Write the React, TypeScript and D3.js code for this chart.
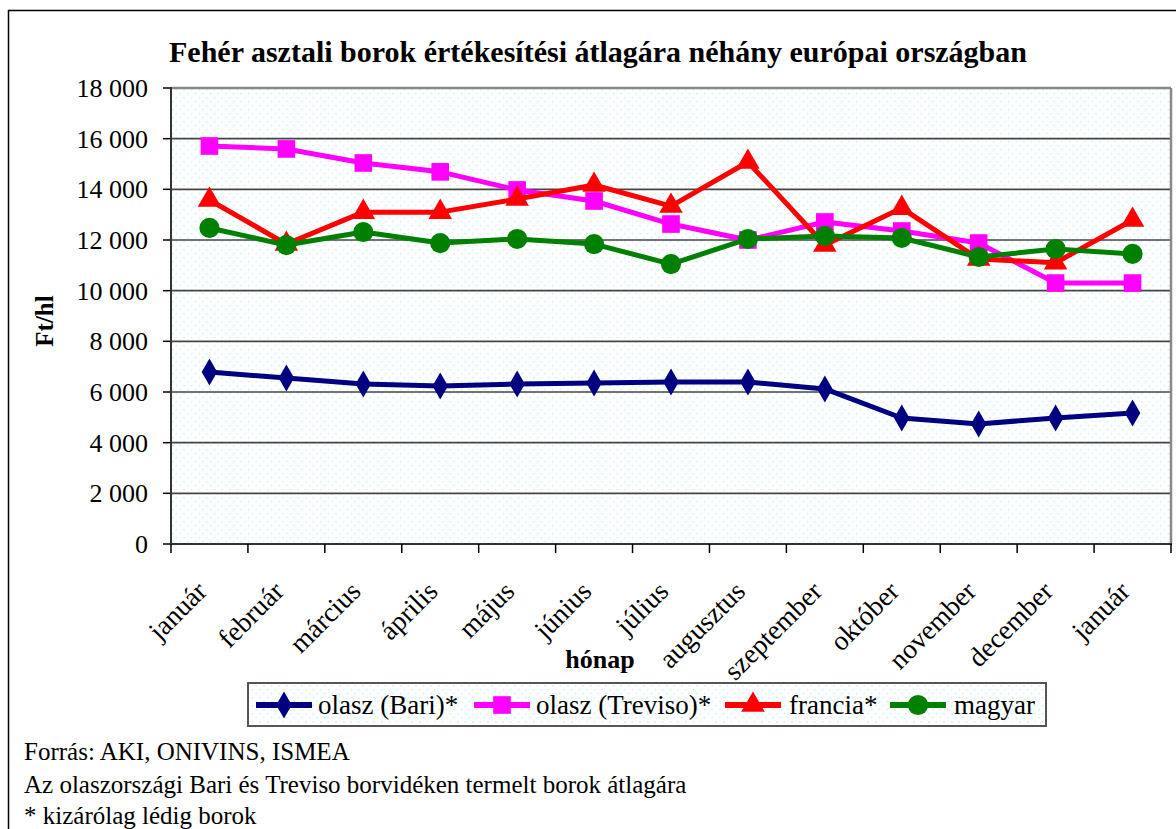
import React from 'react';
import * as d3 from 'd3';

const months = ['január', 'február', 'március', 'április', 'május', 'június', 'július', 'augusztus', 'szeptember', 'október', 'november', 'december', 'január'];
const bari = [6790, 6550, 6315, 6240, 6315, 6355, 6395, 6395, 6120, 4975, 4740, 4975, 5170];
const treviso = [15710, 15595, 15040, 14690, 13975, 13540, 12630, 12000, 12710, 12355, 11880, 10300, 10300];
const francia = [13580, 11840, 13100, 13100, 13620, 14170, 13340, 15080, 11800, 13260, 11250, 11100, 12790];
const magyar = [12475, 11800, 12315, 11880, 12040, 11840, 11050, 12040, 12160, 12080, 11330, 11645, 11450];
const yTicks = [0, 2000, 4000, 6000, 8000, 10000, 12000, 14000, 16000, 18000];

const seriesList = [
  { name: 'olasz (Bari)*', values: bari, color: '#000080', symbol: d3.symbolDiamond, size: 210 },
  { name: 'olasz (Treviso)*', values: treviso, color: '#ff00ff', symbol: d3.symbolSquare, size: 310 },
  { name: 'francia*', values: francia, color: '#ff0000', symbol: d3.symbolTriangle, size: 240 },
  { name: 'magyar', values: magyar, color: '#008000', symbol: d3.symbolCircle, size: 320 },
];

const W = 1176;
const H = 829;
const plot = { left: 171, right: 1171, top: 88, bottom: 544 };
const font = '"Liberation Serif", "Times New Roman", serif';

const fmt = (v: number) => (v >= 1000 ? `${Math.floor(v / 1000)} ${String(v % 1000).padStart(3, '0')}` : String(v));

export default function App() {
  const x = d3.scaleBand<number>().domain(d3.range(months.length)).range([plot.left, plot.right]);
  const y = d3.scaleLinear().domain([0, 18000]).range([plot.bottom, plot.top]);
  const cx = (i: number) => (x(i) as number) + x.bandwidth() / 2;
  const line = d3.line<number>().x((_, i) => cx(i)).y((v) => y(v));

  // legend: sample line start and text start for each entry
  const legendItems = [
    { lx: 256, tx: 318 },
    { lx: 474, tx: 536 },
    { lx: 725, tx: 789 },
    { lx: 890, tx: 954 },
  ];

  return (
    <svg width={W} height={H} style={{ position: 'absolute', left: 0, top: 0, background: '#fff' }} fontFamily={font}>
      <defs>
        <pattern id="dots" width="7.6" height="8" patternUnits="userSpaceOnUse">
          <rect x="1" y="1" width="1.4" height="1.4" fill="#b8f2f2" />
          <rect x="4.8" y="5" width="1.4" height="1.4" fill="#b8f2f2" />
        </pattern>
      </defs>

      {/* outer chart border */}
      <rect x={8.5} y={10.5} width={W + 10} height={H + 10} fill="none" stroke="#000" strokeWidth={1.5} />

      <text x={598} y={62} textAnchor="middle" fontSize={30} fontWeight="bold">
        Fehér asztali borok értékesítési átlagára néhány európai országban
      </text>

      {/* plot area */}
      <rect x={plot.left} y={plot.top} width={plot.right - plot.left} height={plot.bottom - plot.top} fill="url(#dots)" />
      {yTicks.map((t) => (
        <g key={t}>
          {t > 0 && (
            <line x1={plot.left} x2={plot.right} y1={y(t)} y2={y(t)} stroke={t === 18000 ? '#888' : '#444'} strokeWidth={t === 18000 ? 2.5 : 1.6} />
          )}
          <line x1={plot.left - 8} x2={plot.left} y1={y(t)} y2={y(t)} stroke="#000" strokeWidth={1.5} />
          <text x={148} y={y(t)} dy="0.35em" textAnchor="end" fontSize={26}>
            {fmt(t)}
          </text>
        </g>
      ))}
      <line x1={plot.right} x2={plot.right} y1={plot.top} y2={plot.bottom} stroke="#888" strokeWidth={2.5} />
      <line x1={plot.left} x2={plot.left} y1={plot.top - 1} y2={plot.bottom} stroke="#333" strokeWidth={2} />
      <line x1={plot.left} x2={plot.right + 1} y1={plot.bottom} y2={plot.bottom} stroke="#333" strokeWidth={2} />
      {d3.range(months.length + 1).map((i) => {
        const xx = i < months.length ? (x(i) as number) : plot.right;
        return <line key={i} x1={xx} x2={xx} y1={plot.bottom} y2={plot.bottom + 9} stroke="#000" strokeWidth={1.5} />;
      })}
      {months.map((m, i) => (
        <text key={i} transform={`translate(${cx(i) - 1},${plot.bottom + 49}) rotate(-45)`} textAnchor="end" fontSize={27.5}>
          {m}
        </text>
      ))}

      <text x={600} y={668} textAnchor="middle" fontSize={26} fontWeight="bold">hónap</text>
      <text transform={`translate(53,321) rotate(-90)`} textAnchor="middle" fontSize={25} fontWeight="bold">
        Ft/hl
      </text>

      {seriesList.map((s) => (
        <g key={s.name}>
          <path d={line(s.values) ?? ''} fill="none" stroke={s.color} strokeWidth={5} strokeLinejoin="round" />
          {s.values.map((v, i) => (
            <path key={i} transform={`translate(${cx(i)},${y(v)})`} d={d3.symbol(s.symbol, s.size)() ?? ''} fill={s.color} />
          ))}
        </g>
      ))}

      {/* legend */}
      <rect x={248} y={683} width={798} height={43} fill="url(#dots)" stroke="#555" strokeWidth={2} />
      {seriesList.map((s, k) => {
        const it = legendItems[k];
        const ly = 705;
        return (
          <g key={s.name}>
            <line x1={it.lx} x2={it.lx + 56} y1={ly} y2={ly} stroke={s.color} strokeWidth={6} />
            <path transform={`translate(${it.lx + 28},${ly})`} d={d3.symbol(s.symbol, s.size)() ?? ''} fill={s.color} />
            <text x={it.tx} y={714} fontSize={27}>{s.name}</text>
          </g>
        );
      })}

      <text x={24} y={760} fontSize={25}>Forrás: AKI, ONIVINS, ISMEA</text>
      <text x={24} y={793} fontSize={25}>Az olaszországi Bari és Treviso borvidéken termelt borok átlagára</text>
      <text x={24} y={824} fontSize={25}>* kizárólag lédig borok</text>
    </svg>
  );
}
